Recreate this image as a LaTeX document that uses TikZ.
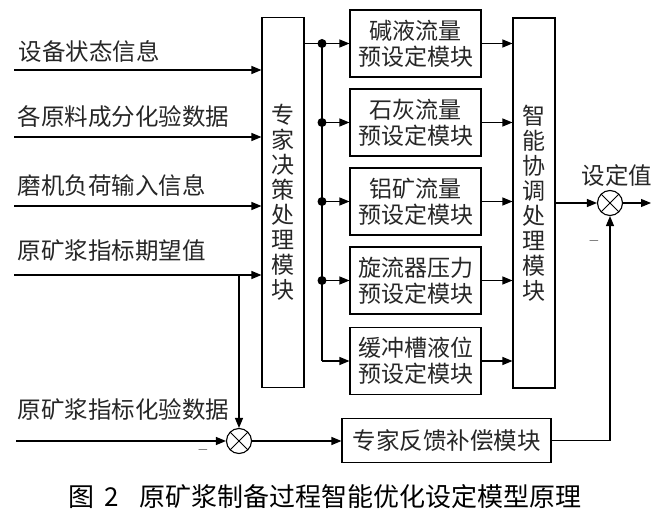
\documentclass[tikz,border=0pt]{standalone}
\usepackage{fontspec}
\setmainfont{Noto Sans CJK SC}
\usetikzlibrary{arrows.meta}
\begin{document}
\begin{tikzpicture}[x=1pt,y=-1pt,
  line width=1.1pt,
  every node/.style={text=black!85},
  txt/.style={font=\fontsize{23.5}{26}\selectfont, inner sep=0pt},
  mtxt/.style={font=\fontsize{23}{26}\selectfont, inner sep=0pt},
  arr/.style={-{Triangle[length=10pt,width=8pt]}},
  modbox/.style={draw, mtxt, align=center, minimum width=131pt, minimum height=67pt},
  tallbox/.style={draw, align=center, minimum width=42pt, minimum height=370pt, inner sep=0pt,
    font=\fontsize{23}{25}\selectfont},
  sumnode/.style={draw, circle, minimum size=25pt, inner sep=0pt,
    path picture={\draw[line width=1pt] (path picture bounding box.south west) -- (path picture bounding box.north east)
      (path picture bounding box.north west) -- (path picture bounding box.south east);}},
  dot/.style={circle, fill=black, inner sep=0pt, minimum size=9pt}
]
\useasboundingbox (0,0) rectangle (659,521);

% main boxes
\node[tallbox] (ex) at (283,202.5) {专\\家\\决\\策\\处\\理\\模\\块};
\node[tallbox] (co) at (534,203) {智\\能\\协\\调\\处\\理\\模\\块};

\node[modbox] (m1) at (415.5,43.5) {碱液流量\\预设定模块};
\node[modbox] (m2) at (415.5,122.5) {石灰流量\\预设定模块};
\node[modbox] (m3) at (415.5,201.5) {铝矿流量\\预设定模块};
\node[modbox] (m4) at (415.5,280.5) {旋流器压力\\预设定模块};
\node[modbox] (m5) at (415.5,361) {缓冲槽液位\\预设定模块};

\node[draw, txt, minimum width=209pt, minimum height=44pt] (fb) at (446.5,440.5) {专家反馈补偿模块};

\node[sumnode] (s1) at (239,441) {};
\node[sumnode] (s2) at (610,203) {};

% input labels
\node[txt, anchor=west] (l1) at (18,51) {设备状态信息};
\node[txt, anchor=west] (l2) at (17,117) {各原料成分化验数据};
\node[txt, anchor=west] (l3) at (17,185) {磨机负荷输入信息};
\node[txt, anchor=west] (l4) at (17,251) {原矿浆指标期望值};
\node[txt, anchor=west] (l5) at (17,410) {原矿浆指标化验数据};
\node[txt] (l6) at (617,176) {设定值};
\node[inner sep=0pt, font=\fontsize{14}{14}\selectfont] (mi1) at (203,450) {$-$};
\node[inner sep=0pt, font=\fontsize{14}{14}\selectfont] (mi2) at (594,241) {$-$};

% input arrows
\coordinate (i1) at (14,70);
\coordinate (i2) at (14,137);
\coordinate (i3) at (14,206);
\coordinate (i4) at (14,275);
\coordinate (i5) at (16,441);
\draw[arr] (i1) -- (i1 -| ex.west);
\draw[arr] (i2) -- (i2 -| ex.west);
\draw[arr] (i3) -- (i3 -| ex.west);
\draw[arr] (i4) -- (i4 -| ex.west);
\coordinate (br) at (239,275);
\draw[arr] (br) -- (s1.north);
\draw[arr] (i5) -- (s1.west);

% distribution bus
\coordinate (b1) at (322,43.5);
\coordinate (b5) at (322,361);
\draw (ex.east |- b1) -- (b1);
\draw (b1) -- (b5);
\draw[arr] (b1) -- (m1.west);
\draw[arr] (b1 |- m2.west) -- (m2.west);
\draw[arr] (b1 |- m3.west) -- (m3.west);
\draw[arr] (b1 |- m4.west) -- (m4.west);
\draw[arr] (b5) -- (m5.west);
\node[dot] (d1) at (b1) {};
\node[dot] (d2) at (b1 |- m2.west) {};
\node[dot] (d3) at (b1 |- m3.west) {};
\node[dot] (d4) at (b1 |- m4.west) {};

% to coordination box
\draw[arr] (m1.east) -- (m1.east -| co.west);
\draw[arr] (m2.east) -- (m2.east -| co.west);
\draw[arr] (m3.east) -- (m3.east -| co.west);
\draw[arr] (m4.east) -- (m4.east -| co.west);
\draw[arr] (m5.east) -- (m5.east -| co.west);

% output
\draw[arr] (co.east |- s2) -- (s2.west);
\coordinate (out) at (651,203);
\draw[arr] (s2.east) -- (out);

% feedback
\draw[arr] (s1.east) -- (fb.west |- s1);
\draw[arr] (fb.east) -| (s2.south);

% caption
\node[inner sep=0pt, font=\fontsize{26}{30}\selectfont, text=black] (cap) at (325,497) {图\hspace{10pt}2\hspace{20pt}原矿浆制备过程智能优化设定模型原理};
\end{tikzpicture}
\end{document}
